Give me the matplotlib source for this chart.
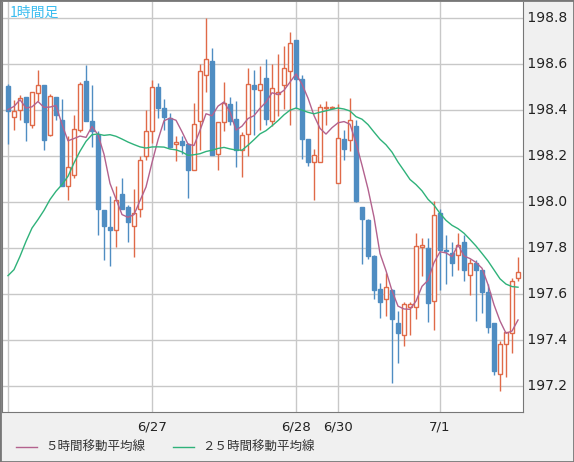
import numpy as np
import pandas as pd
import matplotlib
matplotlib.use('Agg')
import matplotlib.pyplot as plt
from matplotlib.patches import Rectangle
from matplotlib.lines import Line2D

plt.rcParams['font.family'] = ['Noto Sans CJK JP', 'DejaVu Sans']

# hourly OHLC
opens = [198.506, 198.368, 198.399, 198.458, 198.334, 198.474, 198.510, 198.293, 198.458, 198.358,
         198.069, 198.116, 198.312, 198.528, 198.354, 198.293, 197.967, 197.892, 197.877, 198.037,
         197.979, 197.895, 197.970, 198.202, 198.309, 198.500, 198.411, 198.366, 198.253, 198.267,
         198.253, 198.138, 198.351, 198.551, 198.615, 198.208, 198.347, 198.428, 198.363, 198.228,
         198.296, 198.510, 198.486, 198.539, 198.351, 198.470, 198.508, 198.571, 198.706, 198.537,
         198.276, 198.173, 198.173, 198.408, 198.411, 198.083, 198.276, 198.271, 198.332, 197.979,
         197.921, 197.764, 197.622, 197.579, 197.619, 197.472, 197.424, 197.544, 197.544, 197.805,
         197.802, 197.569, 197.953, 197.793, 197.779, 197.771, 197.827, 197.683, 197.735, 197.706,
         197.609, 197.472, 197.253, 197.383, 197.431, 197.670]
highs = [198.515, 198.445, 198.467, 198.458, 198.479, 198.576, 198.510, 198.471, 198.458, 198.450,
         198.289, 198.380, 198.521, 198.595, 198.510, 198.308, 197.967, 198.025, 198.069, 198.105,
         197.989, 198.057, 198.202, 198.402, 198.532, 198.519, 198.450, 198.387, 198.289, 198.286,
         198.257, 198.431, 198.602, 198.802, 198.670, 198.348, 198.522, 198.457, 198.441, 198.305,
         198.583, 198.576, 198.590, 198.622, 198.602, 198.645, 198.677, 198.739, 198.706, 198.554,
         198.276, 198.232, 198.426, 198.441, 198.416, 198.426, 198.315, 198.453, 198.355, 197.979,
         197.927, 197.771, 197.648, 197.692, 197.622, 197.525, 197.564, 197.564, 197.866, 197.845,
         197.845, 198.006, 197.970, 197.858, 197.827, 197.866, 197.858, 197.753, 197.750, 197.706,
         197.644, 197.472, 197.395, 197.435, 197.670, 197.760]
lows = [198.254, 198.315, 198.358, 198.264, 198.322, 198.438, 198.225, 198.286, 198.358, 198.069,
        198.011, 198.105, 198.303, 198.351, 198.238, 197.858, 197.750, 197.721, 197.803, 197.971,
        197.825, 197.761, 197.935, 198.182, 198.257, 198.366, 198.315, 198.235, 198.177, 198.211,
        198.016, 198.138, 198.225, 198.479, 198.206, 198.141, 198.308, 198.337, 198.151, 198.108,
        198.199, 198.293, 198.315, 198.337, 198.329, 198.373, 198.405, 198.334, 198.409, 198.189,
        198.156, 198.011, 198.173, 198.337, 198.409, 198.083, 198.182, 198.221, 197.999, 197.732,
        197.753, 197.580, 197.496, 197.503, 197.214, 197.301, 197.373, 197.421, 197.493, 197.677,
        197.477, 197.443, 197.619, 197.645, 197.677, 197.703, 197.658, 197.595, 197.482, 197.518,
        197.431, 197.250, 197.177, 197.238, 197.344, 197.658]
closes = [198.395, 198.397, 198.453, 198.347, 198.479, 198.510, 198.269, 198.461, 198.380, 198.069,
          198.153, 198.318, 198.515, 198.351, 198.308, 197.971, 197.895, 197.880, 198.011, 197.971,
          197.912, 197.953, 198.183, 198.309, 198.500, 198.408, 198.368, 198.241, 198.261, 198.250,
          198.138, 198.340, 198.570, 198.622, 198.206, 198.348, 198.431, 198.351, 198.228, 198.293,
          198.513, 198.493, 198.513, 198.361, 198.496, 198.477, 198.583, 198.692, 198.537, 198.274,
          198.173, 198.205, 198.413, 198.413, 198.413, 198.279, 198.232, 198.355, 198.006, 197.928,
          197.764, 197.619, 197.564, 197.631, 197.492, 197.431, 197.557, 197.557, 197.809, 197.814,
          197.561, 197.944, 197.790, 197.786, 197.735, 197.812, 197.703, 197.735, 197.703, 197.608,
          197.456, 197.264, 197.383, 197.435, 197.658, 197.696]

# averages before enough visible bars exist (they use earlier history)
ma5_head = [198.402, 198.416, 198.445, 198.409]
ma25_head = [197.680, 197.706, 197.764, 197.829, 197.887, 197.924, 197.964, 198.011, 198.047, 198.076,
             198.112, 198.170, 198.221, 198.264, 198.293, 198.296, 198.290, 198.293, 198.286, 198.274,
             198.261, 198.250, 198.240, 198.235]

date_ticks = [0, 24, 48, 55, 72]
date_labels = ['', '6/27', '6/28', '6/30', '7/1']
price_ticks = [197.2, 197.4, 197.6, 197.8, 198.0, 198.2, 198.4, 198.6, 198.8]

UP = '#e06a48'
DOWN = '#4f8dc2'
MA5_COLOR = '#b3628e'
MA25_COLOR = '#2fb27a'
GRID = '#c8c8c8'

df = pd.DataFrame({'open': opens, 'high': highs, 'low': lows, 'close': closes})
ma5 = df['close'].rolling(5).mean().values
ma5[:4] = ma5_head
ma25 = df['close'].rolling(25).mean().values
ma25[:24] = ma25_head
x = np.arange(len(df))

fig = plt.figure(figsize=(5.74, 4.62), dpi=100)
fig.patch.set_facecolor('#f0f0f0')
ax = fig.add_axes([2 / 574, 50 / 462, 521 / 574, 410 / 462])
ax.set_facecolor('white')
ax.set_xlim(-1, 85.83)
ax.set_ylim(197.087, 198.870)

for t in date_ticks:
    ax.axvline(t, color=GRID, lw=1, zorder=0)
for p in price_ticks:
    ax.axhline(p, color=GRID, lw=1, zorder=0)

for i, row in df.iterrows():
    up = row['close'] >= row['open']
    col = UP if up else DOWN
    lo, hi = min(row['open'], row['close']), max(row['open'], row['close'])
    ax.vlines(i, row['low'], row['high'], color=col, lw=1, zorder=2)
    h = max(hi - lo, 0.004)
    ax.add_patch(Rectangle((i - 0.38, lo), 0.76, h, facecolor='white' if up else col,
                           edgecolor=col, lw=1, zorder=3))

ax.plot(x, ma5, color=MA5_COLOR, lw=1, zorder=4)
ax.plot(x, ma25, color=MA25_COLOR, lw=1, zorder=4)

ax.set_xticks([])
ax.set_yticks([])
ax.spines['top'].set_visible(False)
for s in ['left', 'bottom', 'right']:
    ax.spines[s].set_color('#777777')

ax.text(0.014, 0.99, '1時間足', transform=ax.transAxes, color='#3bbdf0', fontsize=10,
        va='top', ha='left')

for p in price_ticks:
    ax.text(85.83, p, ' %.1f' % p, va='center', ha='left', fontsize=10,
            family='DejaVu Sans', color='#222222', clip_on=False)
for t, lab in zip(date_ticks, date_labels):
    ax.text(t, 197.087 - 0.035, lab, va='top', ha='center', fontsize=9.5,
            family='DejaVu Sans', color='#222222', clip_on=False)

fig.add_artist(Line2D([16 / 574, 37 / 574], [15 / 462, 15 / 462], color=MA5_COLOR, lw=1))
fig.text(45 / 574, 15 / 462, '５時間移動平均線', fontsize=9, va='center', color='#333333')
fig.add_artist(Line2D([173 / 574, 194 / 574], [15 / 462, 15 / 462], color=MA25_COLOR, lw=1))
fig.text(202 / 574, 15 / 462, '２５時間移動平均線', fontsize=9, va='center', color='#333333')

fig.add_artist(Rectangle((0, 0), 1, 1, transform=fig.transFigure, fill=False,
                         edgecolor='#777777', lw=2))

fig.savefig('out.png', dpi=100, facecolor=fig.get_facecolor())
